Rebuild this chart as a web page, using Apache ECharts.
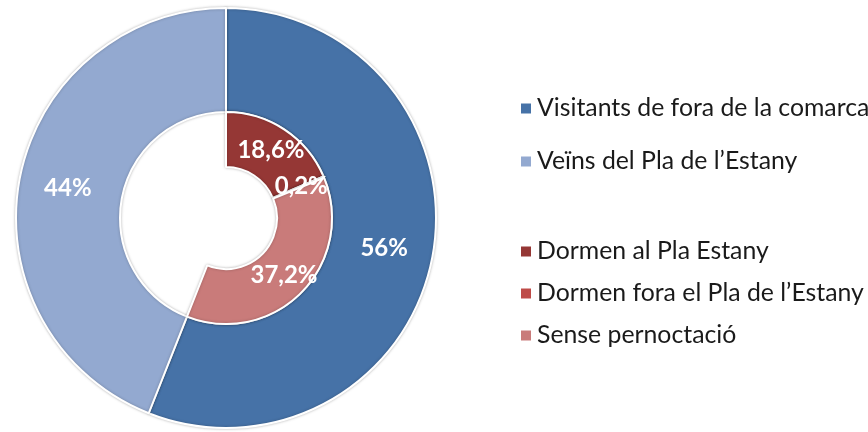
<!DOCTYPE html>
<html>
<head>
<meta charset="utf-8">
<script src="https://cdn.jsdelivr.net/npm/echarts@6/dist/echarts.min.js"></script>
<style>
  html, body { margin: 0; padding: 0; background: #fff; }
  #chart { width: 868px; height: 432px; }
</style>
</head>
<body>
<div id="chart"></div>
<script>
// outer ring: origin of visitors
const outerNames = ['Visitants de fora de la comarca', 'Veïns del Pla de l\u2019Estany'];
const outerValues = [56, 44];
const outerColors = ['#4672A7', '#93A9D0'];

// inner ring: overnight stays (share of all visitors)
const innerNames = ['Dormen al Pla Estany', 'Dormen fora el Pla de l\u2019Estany', 'Sense pernoctació'];
const innerValues = [18.6, 0.2, 37.2];
const innerColors = ['#953735', '#BE4B48', '#C97B7A'];

const fmt = v => String(v).replace('.', ',') + '%';

const chartDom = document.getElementById('chart');
const myChart = echarts.init(chartDom);

const innerData = innerNames.map((n, i) => ({
  name: n, value: innerValues[i], itemStyle: { color: innerColors[i] }
}));
// the rest of the inner ring stays empty (neighbours)
const restValue = +(100 - innerValues.reduce((a, b) => a + b, 0)).toFixed(1);
innerData.push({
  name: '', value: restValue,
  itemStyle: { color: 'rgba(0,0,0,0)', borderWidth: 0, shadowBlur: 0 },
  label: { show: false }, silent: true
});

const labelStyle = {
  show: true,
  position: 'inside',
  color: '#fff',
  fontFamily: 'Lato',
  fontWeight: 'bold',
  fontSize: 24,
  formatter: p => fmt(p.value)
};

const legendText = { fontFamily: 'Lato', fontSize: 24.8, color: '#1a1a1a' };

const option = {
  animation: false,
  legend: [
    {
      orient: 'vertical',
      left: 514,
      top: 91,
      itemWidth: 12,
      itemHeight: 12,
      itemGap: 28,
      icon: 'rect',
      data: outerNames,
      textStyle: legendText,
      selectedMode: false
    },
    {
      orient: 'vertical',
      left: 514,
      top: 234,
      itemWidth: 12,
      itemHeight: 12,
      itemGap: 17,
      icon: 'rect',
      data: innerNames,
      textStyle: legendText,
      selectedMode: false
    }
  ],
  series: [
    {
      name: 'origen',
      type: 'pie',
      center: [226, 218],
      radius: [106, 210],
      startAngle: 90,
      clockwise: true,
      avoidLabelOverlap: false,
      itemStyle: {
        borderColor: '#fff',
        borderWidth: 2,
        shadowBlur: 3,
        shadowColor: 'rgba(0,0,0,0.25)'
      },
      label: labelStyle,
      labelLine: { show: false },
      emphasis: { disabled: true },
      data: outerNames.map((n, i) => ({
        name: n, value: outerValues[i], itemStyle: { color: outerColors[i] }
      }))
    },
    {
      name: 'pernoctacio',
      type: 'pie',
      center: [226, 218],
      radius: [51, 106],
      startAngle: 90,
      clockwise: true,
      avoidLabelOverlap: false,
      itemStyle: {
        borderColor: '#fff',
        borderWidth: 2,
        shadowBlur: 3,
        shadowColor: 'rgba(0,0,0,0.25)'
      },
      label: labelStyle,
      labelLine: { show: false },
      emphasis: { disabled: true },
      data: innerData
    }
  ]
};

myChart.setOption(option);
</script>
</body>
</html>
